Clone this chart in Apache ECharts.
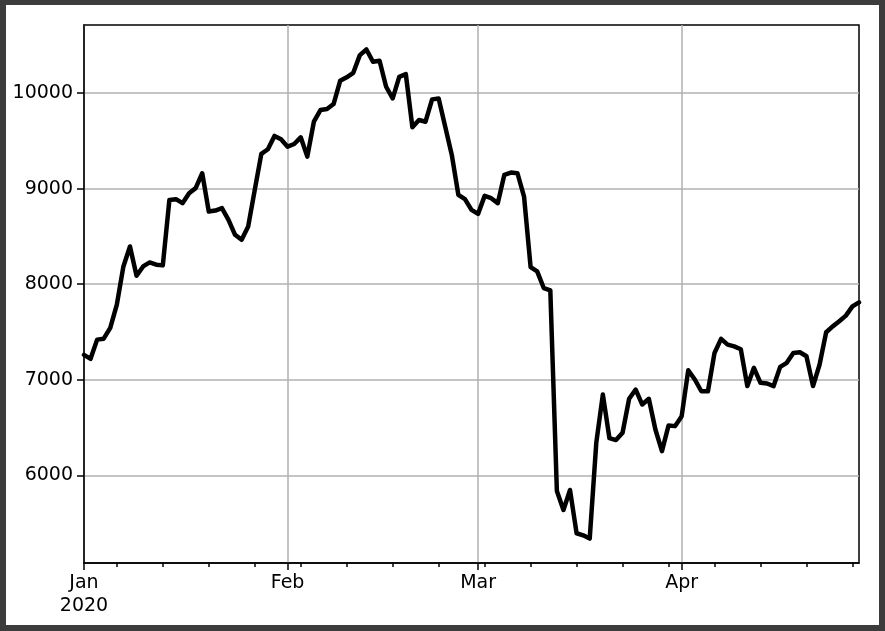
<!DOCTYPE html>
<html>
<head>
<meta charset="utf-8">
<script src="https://cdn.jsdelivr.net/npm/echarts@6/dist/echarts.min.js"></script>
<style>
  html, body { margin: 0; padding: 0; background: #3c3c3c; }
  #chart { position: absolute; left: 6px; top: 5px; width: 873px; height: 620px; background: #fff; }
</style>
</head>
<body>
<div id="chart"></div>
<script>
// daily closes, 2020-01-01 .. 2020-04-28
var startDate = '2020-01-01';
var values = [
  7260, 7219, 7420, 7430, 7543, 7786, 8186, 8395, 8089, 8186,
  8228, 8204, 8197, 8882, 8890, 8848, 8952, 9005, 9161, 8760,
  8771, 8796, 8674, 8517, 8465, 8604, 8987, 9363, 9412, 9551,
  9516, 9439, 9467, 9537, 9335, 9700, 9822, 9833, 9885, 10128,
  10165, 10212, 10397, 10456, 10327, 10338, 10066, 9944, 10170, 10198,
  9642, 9718, 9700, 9934, 9944, 9648, 9352, 8935, 8890, 8778,
  8736, 8924, 8900, 8848, 9144, 9168, 9161, 8917, 8179, 8134,
  7960, 7935, 5836, 5638, 5847, 5394, 5373, 5339, 6341, 6846,
  6390, 6369, 6446, 6801, 6898, 6741, 6801, 6480, 6254, 6522,
  6515, 6619, 7100, 7003, 6880, 6880, 7281, 7428, 7368, 7350,
  7320, 6934, 7125, 6968, 6961, 6934, 7135, 7177, 7281, 7288,
  7246, 6934, 7160, 7497, 7559, 7612, 7671, 7768, 7810
];
var monthTicks = ['2020-01-01', '2020-02-01', '2020-03-01', '2020-04-01'];
var weekTicks = [
  '2020-01-06', '2020-01-13', '2020-01-20', '2020-01-27',
  '2020-02-03', '2020-02-10', '2020-02-17', '2020-02-24',
  '2020-03-02', '2020-03-09', '2020-03-16', '2020-03-23', '2020-03-30',
  '2020-04-06', '2020-04-13', '2020-04-20', '2020-04-27'
];
var yTicks = [6000, 7000, 8000, 9000, 10000];
var yMin = 5083, yMax = 10712;

var monthNames = ['Jan', 'Feb', 'Mar', 'Apr', 'May', 'Jun', 'Jul', 'Aug', 'Sep', 'Oct', 'Nov', 'Dec'];
var DAY = 86400000;

function ts(s) {
  var p = s.split('-');
  return Date.UTC(+p[0], +p[1] - 1, +p[2]);
}

var t0 = ts(startDate);
var points = values.map(function (v, i) { return [t0 + i * DAY, v]; });
var xMin = points[0][0];
var xMax = points[points.length - 1][0];

var font = 'DejaVu Sans';
var chart = echarts.init(document.getElementById('chart'));
chart.setOption({
  animation: false,
  grid: {
    left: 78, right: 20, top: 20, bottom: 62,
    outerBoundsMode: 'none',
    containLabel: false,
    show: true, borderColor: '#000', borderWidth: 1.5, backgroundColor: '#fff'
  },
  xAxis: [
    {
      type: 'value',
      min: xMin,
      max: xMax,
      position: 'bottom',
      axisLine: { show: true, lineStyle: { color: '#000', width: 1.5 } },
      axisTick: {
        show: true,
        customValues: monthTicks.map(ts),
        length: 7,
        lineStyle: { color: '#000', width: 1.5 }
      },
      axisLabel: {
        customValues: monthTicks.map(ts),
        color: '#000',
        fontFamily: font,
        fontSize: 19,
        lineHeight: 23,
        margin: 9,
        formatter: function (val) {
          var d = new Date(val);
          var m = d.getUTCMonth();
          return m === 0 ? monthNames[m] + '\n' + d.getUTCFullYear() : monthNames[m];
        }
      },
      splitLine: { show: true, lineStyle: { color: '#b0b0b0', width: 1.5 } }
    },
    {
      type: 'value',
      min: xMin,
      max: xMax,
      position: 'bottom',
      axisLine: { show: false },
      axisTick: {
        show: true,
        customValues: weekTicks.map(ts),
        length: 4,
        lineStyle: { color: '#000', width: 1.5 }
      },
      axisLabel: { show: false },
      splitLine: { show: false }
    }
  ],
  yAxis: {
    type: 'value',
    min: yMin,
    max: yMax,
    axisLine: { show: true, lineStyle: { color: '#000', width: 1.5 } },
    axisTick: {
      show: true,
      customValues: yTicks,
      length: 7,
      lineStyle: { color: '#000', width: 1.5 }
    },
    axisLabel: {
      customValues: yTicks,
      color: '#000',
      fontFamily: font,
      fontSize: 19,
      margin: 11,
      formatter: function (v) { return String(v); }
    },
    splitLine: { show: true, lineStyle: { color: '#b0b0b0', width: 1.5 } }
  },
  series: [
    {
      type: 'line',
      data: points,
      showSymbol: false,
      symbol: 'none',
      lineStyle: { color: '#000', width: 4.5, join: 'round', cap: 'round' },
      z: 5
    }
  ]
});
</script>
</body>
</html>
